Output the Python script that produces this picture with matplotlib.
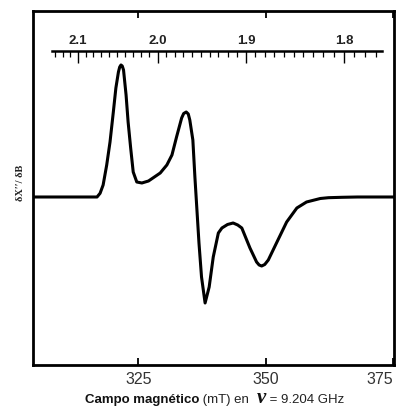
#!/usr/bin/env python3

import numpy as np
import matplotlib
matplotlib.use("Agg")

import matplotlib.pyplot as plt
from matplotlib.ticker import FixedLocator, NullFormatter
from matplotlib.offsetbox import TextArea, HPacker, AnchoredOffsetbox

plt.rcParams["font.family"] = ["Liberation Sans", "DejaVu Sans"]

# magnetic field (mT) and derivative signal (arb. units)
field = [304.4, 306.0, 308.0, 310.0, 312.0, 314.0, 316.0, 316.9, 317.5, 318.1,
         318.8, 319.45, 320.1, 320.6, 321.1, 321.35, 321.6, 321.85, 322.1, 322.6,
         323.0, 323.5, 324.0, 324.7, 325.7, 327.0, 329.3, 330.6, 331.6, 332.5,
         333.5, 333.9, 334.4, 334.8, 335.1, 335.7, 336.1, 336.5, 336.9, 337.4,
         338.1, 338.9, 339.7, 340.7, 341.4, 342.5, 343.6, 344.5, 345.3, 346.9,
         348.2, 348.7, 349.2, 349.8, 350.5, 352.2, 354.1, 356.1, 358.0, 360.7,
         362.3, 365.0, 368.0, 371.0, 375.2]
signal = [0, 0, 0, 0, 0, 0, 0, 0, 3.7, 12,
          32, 55, 85, 109, 125, 130, 132, 131, 127, 102,
          75, 49, 25, 15, 14, 16, 24, 32, 42, 60,
          79, 83.5, 85, 83, 77, 57, 20, -13, -46, -80,
          -106, -90, -60, -36, -31, -27.5, -26, -28, -31, -51,
          -65, -68, -69, -67.5, -63, -45, -25, -11, -5, -1.5,
          -0.7, -0.3, 0, 0, 0]

x_ticks = [325, 350, 375]
g_major = [2.1, 2.0, 1.9, 1.8]
g_minor = [v / 100 for v in range(177, 214)]

NU = 9.204          # GHz
K = 71.4477 * NU    # B(mT) * g


def b2g(b):
    b = np.asarray(b, dtype=float)
    with np.errstate(divide="ignore"):
        return K / b


def g2b(g):
    g = np.asarray(g, dtype=float)
    with np.errstate(divide="ignore"):
        return K / g


fig = plt.figure(figsize=(4.06, 4.15), dpi=100)
ax = fig.add_axes([0.082, 0.1205, 0.889, 0.853])

ax.plot(field, signal, color="black", lw=2.2, solid_joinstyle="round")

ax.set_xlim(304.4, 375.2)
ax.set_ylim(-168, 186)
ax.set_xticks(x_ticks)
ax.set_yticks([])
for s in ax.spines.values():
    s.set_linewidth(2.0)
ax.tick_params(axis="x", direction="in", length=5, width=1.3, top=True,
               pad=5, labelsize=11.5, labelcolor="#333333")
ax.get_xticklabels()[-1].set_ha("right")

ax.set_ylabel("δX′′/ δB", family="Liberation Serif", weight="bold",
              fontsize=7.5, color="#222222")
ax.yaxis.set_label_coords(-0.023, 0.515)

# g-value scale
sec = ax.secondary_xaxis(0.888, functions=(b2g, g2b))
sec.xaxis.set_major_locator(FixedLocator(g_major))
sec.xaxis.set_minor_locator(FixedLocator(g_minor))
sec.xaxis.set_minor_formatter(NullFormatter())
sec.tick_params(which="major", direction="in", length=8.5, width=1.0,
                pad=2.5, labelsize=9.5, labelcolor="#222222")
sec.tick_params(which="minor", direction="in", length=4.5, width=0.9)
for lab in sec.get_xticklabels():
    lab.set_fontweight("bold")
sec.spines["top"].set_linewidth(1.8)
sec.spines["top"].set_bounds(2.135, 1.764)

# axis title built from pieces with different styles
parts = [
    TextArea("Campo magnético", textprops=dict(weight="bold", size=9.5, color="#111111")),
    TextArea(" (mT) en  ", textprops=dict(size=9.5, color="#222222")),
    TextArea("ν", textprops=dict(family="Liberation Serif", style="italic",
                                 weight="bold", size=15, color="#111111")),
    TextArea(" = 9.204 GHz", textprops=dict(size=9.5, color="#222222")),
]
box = HPacker(children=parts, align="baseline", pad=0, sep=0)
anch = AnchoredOffsetbox(loc="lower center", child=box, pad=0, borderpad=0,
                         frameon=False, bbox_to_anchor=(0.528, 0.018),
                         bbox_transform=fig.transFigure)
fig.add_artist(anch)

fig.savefig("out.png", dpi=100)
